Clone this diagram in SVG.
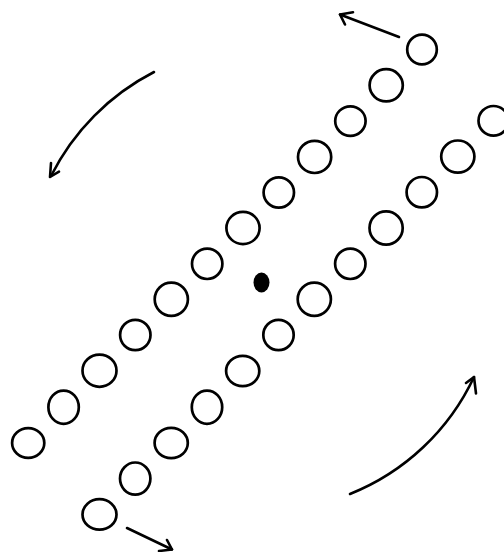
<svg xmlns="http://www.w3.org/2000/svg" width="504" height="552" viewBox="0 0 504 552">
<style>
.c{fill:none;stroke:#000;stroke-width:2.7}
.dot{fill:#000;stroke:none}
.a{fill:none;stroke:#000;stroke-width:2.6;stroke-linecap:round;stroke-linejoin:round}
</style>
<rect width="504" height="552" fill="#fff"/>
<g id="row-upper">
<g id="u0"><ellipse class="c" cx="422" cy="49.5" rx="14.8" ry="14.8"/></g>
<g id="u1"><ellipse class="c" cx="386.2" cy="85.3" rx="16.6" ry="16.1"/></g>
<g id="u2"><ellipse class="c" cx="350.4" cy="121.1" rx="15.2" ry="14.8"/></g>
<g id="u3"><ellipse class="c" cx="314.6" cy="156.9" rx="16.6" ry="16.1"/></g>
<g id="u4"><ellipse class="c" cx="278.8" cy="192.5" rx="15.2" ry="15.2"/></g>
<g id="u5"><ellipse class="c" cx="243" cy="228" rx="16.6" ry="16.1"/></g>
<g id="u6"><ellipse class="c" cx="207.2" cy="263.8" rx="15.2" ry="15.2"/></g>
<g id="u7"><ellipse class="c" cx="171.3" cy="299.3" rx="16.6" ry="16.6"/></g>
<g id="u8"><ellipse class="c" cx="135.3" cy="335" rx="15.2" ry="15.2"/></g>
<g id="u9"><ellipse class="c" cx="99.5" cy="370.7" rx="17" ry="16.1"/></g>
<g id="u10"><ellipse class="c" cx="63.6" cy="407.2" rx="15.2" ry="16.6"/></g>
<g id="u11"><ellipse class="c" cx="28.2" cy="443" rx="16.1" ry="14.8"/></g>
</g>
<g id="row-lower">
<g id="l0"><ellipse class="c" cx="493.5" cy="120.8" rx="15" ry="14.8"/></g>
<g id="l1"><ellipse class="c" cx="457.8" cy="156.6" rx="16.6" ry="16.1"/></g>
<g id="l2"><ellipse class="c" cx="421.8" cy="192.2" rx="15.2" ry="15.2"/></g>
<g id="l3"><ellipse class="c" cx="386.1" cy="228" rx="16.6" ry="16.6"/></g>
<g id="l4"><ellipse class="c" cx="350.3" cy="263.8" rx="15.2" ry="15.2"/></g>
<g id="l5"><ellipse class="c" cx="314.3" cy="299.3" rx="16.6" ry="16.6"/></g>
<g id="l6"><ellipse class="c" cx="278.5" cy="335" rx="15.2" ry="15.2"/></g>
<g id="l7"><ellipse class="c" cx="242.7" cy="371" rx="16.6" ry="15.2"/></g>
<g id="l8"><ellipse class="c" cx="207" cy="407.2" rx="15.2" ry="16.6"/></g>
<g id="l9"><ellipse class="c" cx="171.2" cy="443" rx="16.6" ry="15.2"/></g>
<g id="l10"><ellipse class="c" cx="135.2" cy="478.6" rx="15.2" ry="16.1"/></g>
<g id="l11"><ellipse class="c" cx="99.5" cy="514.4" rx="17" ry="15.2"/></g>
</g>
<g id="center"><ellipse class="dot" cx="261.5" cy="282.5" rx="8" ry="10"/></g>
<g id="connectors">
<path class="a" d="M399,37 L340,14.5"/>
<path class="a" d="M353,12.3 L340,14.5 L345,24.5"/>
<path class="a" d="M154,72 A236,236 0 0 0 51,176"/>
<path class="a" d="M51,163 L50,177 L59,171.7"/>
<path class="a" d="M350,494 A232,232 0 0 0 474,377"/>
<path class="a" d="M466,383 L474,377 L476,393.5"/>
<path class="a" d="M127,528 L172,549.5"/>
<path class="a" d="M159,551 L172,549.5 L167,540"/>
</g>
</svg>
